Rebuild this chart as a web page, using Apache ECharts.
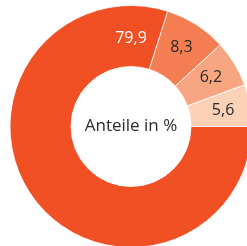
<!DOCTYPE html>
<html>
<head>
<meta charset="utf-8">
<script src="https://cdn.jsdelivr.net/npm/echarts@6/dist/echarts.min.js"></script>
<style>
  html, body { margin: 0; padding: 0; background: #fff; }
  #chart { width: 247px; height: 246px; }
</style>
</head>
<body>
<div id="chart"></div>
<script>
// Data (counter-clockwise from 3 o'clock)
const categories = ['D', 'C', 'B', 'A']
const values = [5.6, 6.2, 8.3, 79.9]
const colors = ['#fcd1b6', '#f8a681', '#f47e51', '#f15024']
const labelColors = ['#2b2b2b', '#2b2b2b', '#2b2b2b', '#ffffff']
const centerText = 'Anteile in %'

const CENTER = [131, 126.5]
const RADIUS = [60, 121]
const FONT = '"Open Sans", sans-serif'

const chart = echarts.init(document.getElementById('chart'), null, { renderer: 'canvas' })

chart.setOption({
  animation: false,
  graphic: [{
    type: 'text',
    x: CENTER[0],
    y: CENTER[1],
    style: {
      text: centerText,
      fontFamily: FONT,
      fontSize: 17,
      fill: '#2b2b2b',
      align: 'center',
      verticalAlign: 'middle'
    }
  }],
  series: [{
    type: 'pie',
    center: CENTER,
    radius: RADIUS,
    startAngle: 0,
    clockwise: false,
    avoidLabelOverlap: false,
    itemStyle: { borderColor: '#fff', borderWidth: 0.8 },
    label: {
      show: true,
      position: 'inside',
      fontFamily: FONT,
      fontSize: 16,
      formatter: p => String(p.value).replace('.', ',')
    },
    labelLine: { show: false },
    // big slice label sits at the top of the ring
    labelLayout: p => {
      if (p.dataIndex !== 3) return {}
      const rMid = (RADIUS[0] + RADIUS[1]) / 2
      return { x: CENTER[0], y: CENTER[1] - rMid + 2 }
    },
    emphasis: { disabled: true },
    data: values.map((v, i) => ({
      name: categories[i],
      value: v,
      itemStyle: { color: colors[i] },
      label: { color: labelColors[i] }
    }))
  }]
})
</script>
</body>
</html>
